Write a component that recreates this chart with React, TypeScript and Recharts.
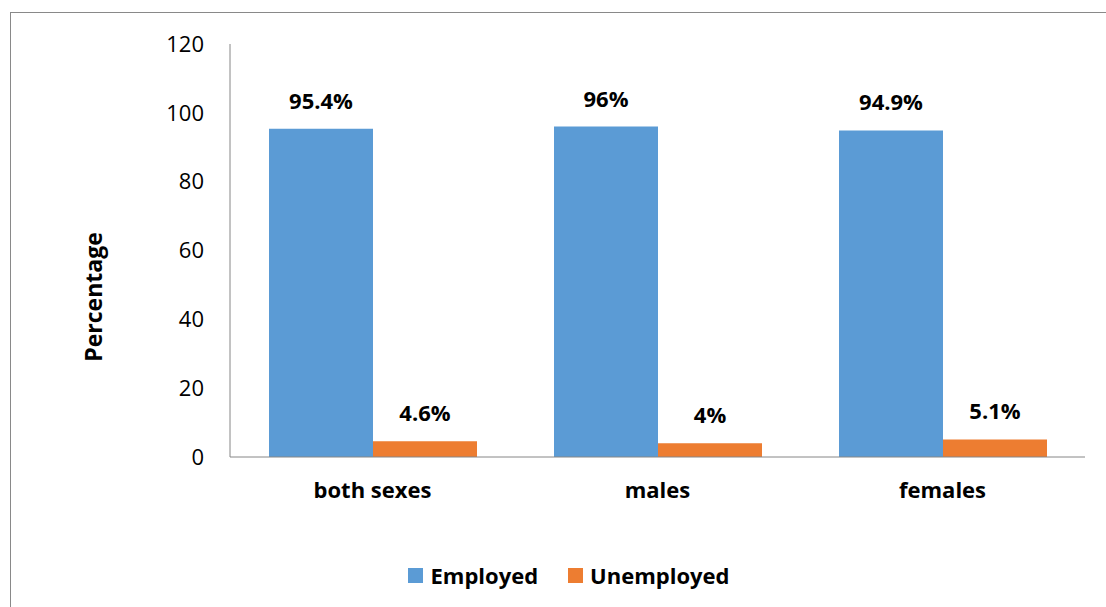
import React from 'react';
import { BarChart, Bar, XAxis, YAxis, LabelList } from 'recharts';

const categories = ['both sexes', 'males', 'females'];
const employed = [95.4, 96, 94.9];
const unemployed = [4.6, 4, 5.1];
const yTicks = [0, 20, 40, 60, 80, 100, 120];

const data = categories.map((name, i) => ({ name, employed: employed[i], unemployed: unemployed[i] }));

const FONT = 'Open Sans, Noto Sans, sans-serif';

const legendItems = [
    { label: 'Employed', color: '#5B9BD5' },
    { label: 'Unemployed', color: '#ED7D31' },
];

const labelStyle = { fill: '#000', fontSize: 22, fontWeight: 700, fontFamily: FONT };

const App = () => {
    return (
        <div style={{ position: 'absolute', left: 0, top: 0, width: 1106, height: 607, overflow: 'hidden', background: '#fff' }}>
            <div style={{ position: 'absolute', left: 10, top: 12, width: 1120, height: 620, border: '1px solid #898989' }} />
            <div style={{ position: 'absolute', left: 0, top: 0 }}>
                <BarChart
                    width={1106}
                    height={607}
                    data={data}
                    margin={{ top: 44, right: 21, left: 150, bottom: 120 }}
                    barCategoryGap={39}
                    barGap={0}
                >
                    <XAxis
                        dataKey="name"
                        height={30}
                        stroke="#868686"
                        tickLine={false}
                        tickSize={0}
                        tickMargin={25}
                        tick={{ fill: '#000', fontSize: 22, fontWeight: 700, fontFamily: FONT }}
                    />
                    <YAxis
                        width={80}
                        domain={[0, 120]}
                        ticks={yTicks}
                        stroke="#868686"
                        tickLine={false}
                        tickSize={0}
                        tickMargin={26}
                        tick={{ fill: '#000', fontSize: 22, fontFamily: FONT }}
                    />
                    <Bar dataKey="employed" name="Employed" fill="#5B9BD5" isAnimationActive={false}>
                        <LabelList dataKey="employed" position="top" offset={20} formatter={(v: number) => `${v}%`} style={labelStyle} />
                    </Bar>
                    <Bar dataKey="unemployed" name="Unemployed" fill="#ED7D31" isAnimationActive={false}>
                        <LabelList dataKey="unemployed" position="top" offset={20} formatter={(v: number) => `${v}%`} style={labelStyle} />
                    </Bar>
                </BarChart>
            </div>
            <div
                style={{
                    position: 'absolute', left: 93, top: 297, transform: 'translate(-50%, -50%) rotate(-90deg)',
                    fontFamily: FONT, fontWeight: 700, fontSize: 23, whiteSpace: 'nowrap', color: '#000',
                }}
            >
                Percentage
            </div>
            <div
                style={{
                    position: 'absolute', left: 0, width: 1138, top: 560, height: 30, display: 'flex', justifyContent: 'center',
                    alignItems: 'center', gap: 30, fontFamily: FONT, fontWeight: 700, fontSize: 22, color: '#000',
                }}
            >
                {legendItems.map((it) => (
                    <div key={it.label} style={{ display: 'flex', alignItems: 'center' }}>
                        <span style={{ display: 'inline-block', width: 15, height: 15, background: it.color, marginRight: 7 }} />
                        {it.label}
                    </div>
                ))}
            </div>
        </div>
    );
};

export default App;
